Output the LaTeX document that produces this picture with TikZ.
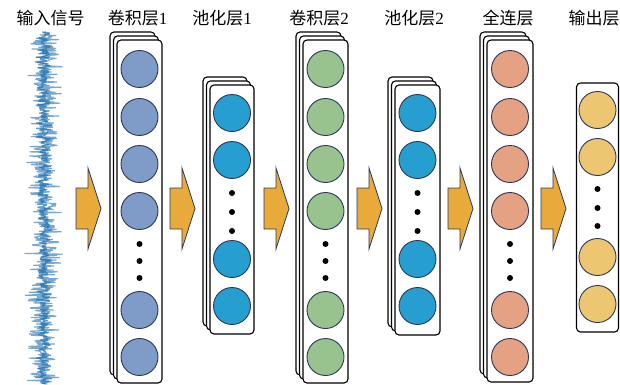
\documentclass[tikz,border=0pt]{standalone}
\usepackage{fontspec}
\setmainfont{Liberation Serif}
\newfontfamily\cjk{Noto Sans CJK SC}
\definecolor{cconv}{RGB}{127,155,200}
\definecolor{cpool}{RGB}{38,158,208}
\definecolor{cconvb}{RGB}{152,194,142}
\definecolor{cfc}{RGB}{228,162,130}
\definecolor{cout}{RGB}{237,198,114}
\definecolor{cedge}{RGB}{45,55,90}
\definecolor{carrow}{RGB}{232,170,58}
\definecolor{csig}{RGB}{30,110,175}
\tikzset{
  card/.style={draw=black, line width=1.1pt, fill=white, rounded corners=4pt, inner sep=0pt},
  neuron/.style={circle, draw=cedge, line width=0.9pt, minimum size=37pt, inner sep=0pt},
  dotn/.style={circle, fill=black, minimum size=6pt, inner sep=0pt},
  blockarrow/.style={draw=cedge, line width=0.8pt, fill=carrow, line join=miter},
  lab/.style={font=\fontsize{17}{20}\selectfont, anchor=center, inner sep=0pt},
  sigline/.style={csig, line width=1.1pt, line join=bevel}
}
% #1 name, #2 cx, #3 top, #4 bottom, #5 width, #6 card list, #7 color, #8 circle ys, #9 dot ys
\newcommand\nnlayer[9]{%
  \foreach \k in {#6} {\node[card, minimum width=#5, minimum height={#4-#3}] (#1card\k) at ({#2-\k*3.5},{(#3+#4)/2-\k*4}) {};}
  \foreach \yy [count=\i] in {#8} {\node[neuron, fill=#7] (#1n\i) at (#2,\yy) {};}
  \foreach \yy [count=\i] in {#9} {\node[dotn] (#1d\i) at (#2,\yy) {};}
}
\newcommand\blockarr[1]{%
  \draw[blockarrow] (#1,188) -- ({#1+12},188) -- ({#1+12},168) -- ({#1+25},208.5) -- ({#1+12},249) -- ({#1+12},229) -- (#1,229) -- cycle;
}
\begin{document}
\begin{tikzpicture}[x=1pt,y=-1pt]
\useasboundingbox (0,0) rectangle (620,384);
% labels
\node[lab] (t0) at (50.5,18) {\cjk 输入信号};
\node[lab] (t1) at (137.5,18) {{\cjk 卷积层}1};
\node[lab] (t2) at (222,18) {{\cjk 池化层}1};
\node[lab] (t3) at (319,18) {{\cjk 卷积层}2};
\node[lab] (t4) at (414,18) {{\cjk 池化层}2};
\node[lab] (t5) at (508,18) {\cjk 全连层};
\node[lab] (t6) at (594,18) {\cjk 输出层};
% signal
\pgfmathsetseed{7}
\draw[sigline, opacity=0.6] plot[domain=32:384, samples=600] ({44+7.5*(rand+rand+rand)}, \x);
\draw[sigline, opacity=0.7] plot[domain=32:384, samples=600] ({44+3.5*(rand+rand+rand)}, \x);
% layers
\nnlayer{a}{139.5}{40}{383}{45}{2,1,0}{cconv}{69,117,164,211,310,357}{244,261,278}
\nnlayer{b}{232}{85}{334}{44}{2,1,0}{cpool}{113,160,259,306}{193,212,231}
\nnlayer{c}{325.5}{40}{383}{45}{2,1,0}{cconvb}{69,117,164,211,310,357}{244,261,278}
\nnlayer{d}{417.5}{85}{335}{45}{2,1,0}{cpool}{113,160,259,306}{193,212,231}
\nnlayer{e}{510}{40}{382}{46}{2,1,0}{cfc}{69,117,164,211,310,357}{244,261,278}
\nnlayer{f}{597.5}{83}{332}{42}{0}{cout}{110,157,257,304}{189,208,226}
% arrows
\blockarr{76}
\blockarr{170}
\blockarr{264}
\blockarr{357}
\blockarr{448}
\blockarr{541}
\end{tikzpicture}
\end{document}
